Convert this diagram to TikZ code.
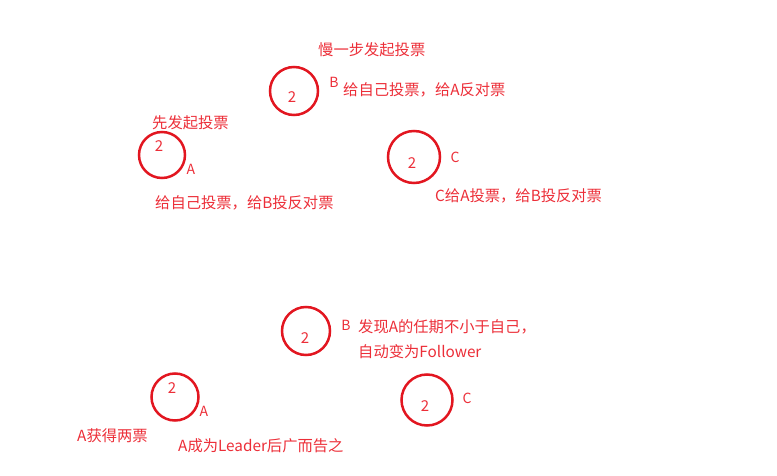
\documentclass[tikz,border=0pt]{standalone}
\usepackage{fontspec}
\newfontfamily\cjk{Noto Sans CJK SC}
\definecolor{ringred}{RGB}{226,22,32}
\definecolor{txtred}{RGB}{236,46,56}

\begin{document}
\begin{tikzpicture}[x=1pt,y=1pt,yscale=-1,xscale=1,
  server/.style={circle,draw=ringred,line width=2.5pt,inner sep=0pt,minimum size=#1},
  term/.style={text=txtred,inner sep=0pt,font=\cjk\fontsize{15}{17}\selectfont},
  tag/.style={text=txtred,inner sep=0pt,font=\cjk\fontsize{14}{16}\selectfont},
  note/.style={text=txtred,inner sep=0pt,anchor=west,font=\cjk\fontsize{15.3}{18}\selectfont}]
\useasboundingbox (0,0) rectangle (777,476);

%Shape: Circle [first round]
\node (B1) [server=48pt] at (294,91) {};
\node (A1) [server=46pt] at (162,155) {};
\node (C1) [server=52pt] at (414,157) {};
%Shape: Circle [second round]
\node (B2) [server=48pt] at (306,331) {};
\node (A2) [server=47pt] at (175,397) {};
\node (C2) [server=51pt] at (427,400) {};

% Text Node
\node (tB1) [term] at (292,97) {2};
\node (tA1) [term] at (159,146) {2};
\node (tC1) [term] at (412,163) {2};
\node (tB2) [term] at (305,338) {2};
\node (tA2) [term] at (172,388) {2};
\node (tC2) [term] at (425,406) {2};
% Text Node
\node (nB1) [tag] at (334,82) {B};
\node (nA1) [tag] at (191,169) {A};
\node (nC1) [tag] at (455,157) {C};
\node (nB2) [tag] at (346,325) {B};
\node (nA2) [tag] at (204,411) {A};
\node (nC2) [tag] at (467,398) {C};

% Text Node
\node (late) [note] at (318,50) {慢一步发起投票};
\node (votB) [note] at (343,90) {给自己投票，给A反对票};
\node (first) [note] at (152,123) {先发起投票};
\node (votA) [note] at (155,203) {给自己投票，给B投反对票};
\node (votC) [note] at (435,196) {C给A投票，给B投反对票};
% Text Node
\node (seeB) [note] at (358,327) {发现A的任期不小于自己，};
\node (flwB) [note] at (358,352) {自动变为Follower};
\node (twoA) [note] at (77,436) {A获得两票};
\node (ldrA) [note] at (178,446) {A成为Leader后广而告之};
\end{tikzpicture}
\end{document}
